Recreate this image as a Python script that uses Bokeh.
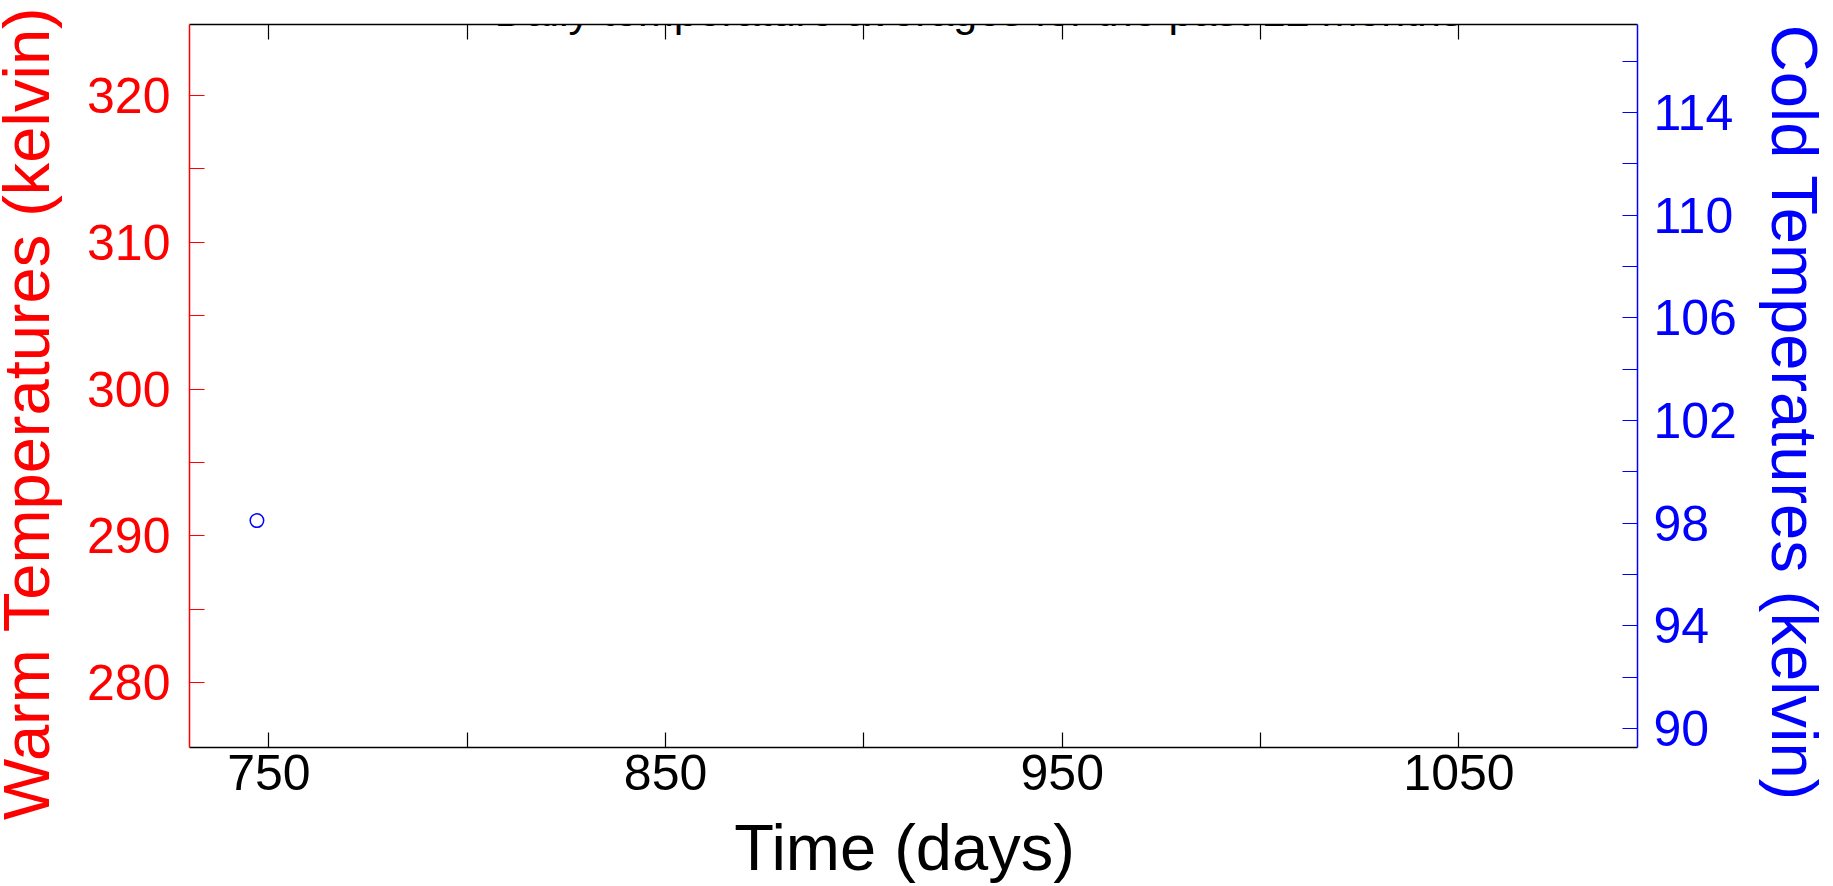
import math
from bokeh.plotting import figure
from bokeh.models import LinearAxis, Range1d, FixedTicker, Label
from bokeh.embed import file_html
from bokeh.resources import INLINE

# ---- data ----
title_text = "Daily temperature averages for the past 12 months"
x_label = "Time (days)"
warm_label = "Warm Temperatures (kelvin)"
cold_label = "Cold Temperatures (kelvin)"

cold_days = [747]
cold_temps = [98.1]

x_major = [750, 850, 950, 1050]
x_minor = [800, 900, 1000]
warm_major = [280, 290, 300, 310, 320]
warm_minor = [285, 295, 305, 315]
cold_major = [90, 94, 98, 102, 106, 110, 114]
cold_minor = [92, 96, 100, 104, 108, 112, 116]

x_lim = (730, 1095)
warm_lim = (275.59, 324.82)
cold_lim = (89.26, 117.43)

FONT = "Liberation Sans"
RED = "#ff0000"
BLUE = "#0000ff"
NB = "\u00a0"

MX, MY = 13, 8                      # page offset of the canvas
W, H = 1833 + MX, 886 + MY
FL, FR, FT, FB = 189 + MX, 1637 + MX, 24 + MY, 749 + MY  # frame edges (canvas px)

p = figure(width=W, height=H, output_backend="svg", toolbar_location=None,
           x_range=Range1d(*x_lim), y_range=Range1d(*warm_lim),
           min_border_left=FL, min_border_right=W - FR,
           min_border_top=FT, min_border_bottom=H - FB)
p.margin = (-MY, 0, 0, -MX)
p.title.visible = False
p.outline_line_color = None
p.xgrid.visible = False
p.ygrid.visible = False
p.background_fill_color = "white"
p.border_fill_color = "white"

p.extra_y_ranges = {"cold": Range1d(*cold_lim)}


def style_axis(ax, color, major, minor):
    ax.ticker = FixedTicker(ticks=major, minor_ticks=minor)
    ax.axis_line_color = color
    ax.axis_line_width = 1.5
    ax.major_tick_line_color = color
    ax.minor_tick_line_color = color
    ax.major_tick_line_width = 1.2
    ax.minor_tick_line_width = 1.2
    ax.major_tick_in = 15
    ax.major_tick_out = 0
    ax.minor_tick_in = 15
    ax.minor_tick_out = 0
    ax.major_label_text_color = color
    ax.major_label_text_font = FONT
    ax.major_label_text_font_size = "50px"
    ax.axis_label_text_font = FONT
    ax.axis_label_text_font_style = "normal"
    ax.axis_label_text_color = color


xb = p.xaxis[0]
style_axis(xb, "black", x_major, x_minor)
xb.major_label_standoff = 7
xb.axis_label = x_label + NB
xb.axis_label_text_font_size = "65px"
xb.axis_label_standoff = 18

yl = p.yaxis[0]
style_axis(yl, RED, warm_major, warm_minor)
yl.major_label_standoff = 19
yl.axis_label = warm_label + NB * 3
yl.axis_label_text_font_size = "65px"
yl.axis_label_standoff = 21

# top axis: tick marks only (all as minor ticks, so no labels)
xt = LinearAxis()
style_axis(xt, "black", [], x_major + x_minor)
p.add_layout(xt, "above")

yr = LinearAxis(y_range_name="cold")
style_axis(yr, BLUE, cold_major, cold_minor)
yr.major_label_standoff = 16
yr.axis_label = NB * 3 + cold_label
yr.axis_label_text_font_size = "65px"
yr.axis_label_standoff = 18
p.add_layout(yr, "right")

p.scatter(cold_days, cold_temps, marker="circle", size=13.5, fill_color=None,
          line_color=BLUE, line_width=1.5, y_range_name="cold")

p.add_layout(Label(x=978 - 189, y=FB - (12 + MY), x_units="screen", y_units="screen",
                   text=title_text, text_align="center", text_baseline="alphabetic",
                   text_font=FONT, text_font_size="43px", text_color="black"))

open("out.html", "w").write(file_html(p, INLINE))
